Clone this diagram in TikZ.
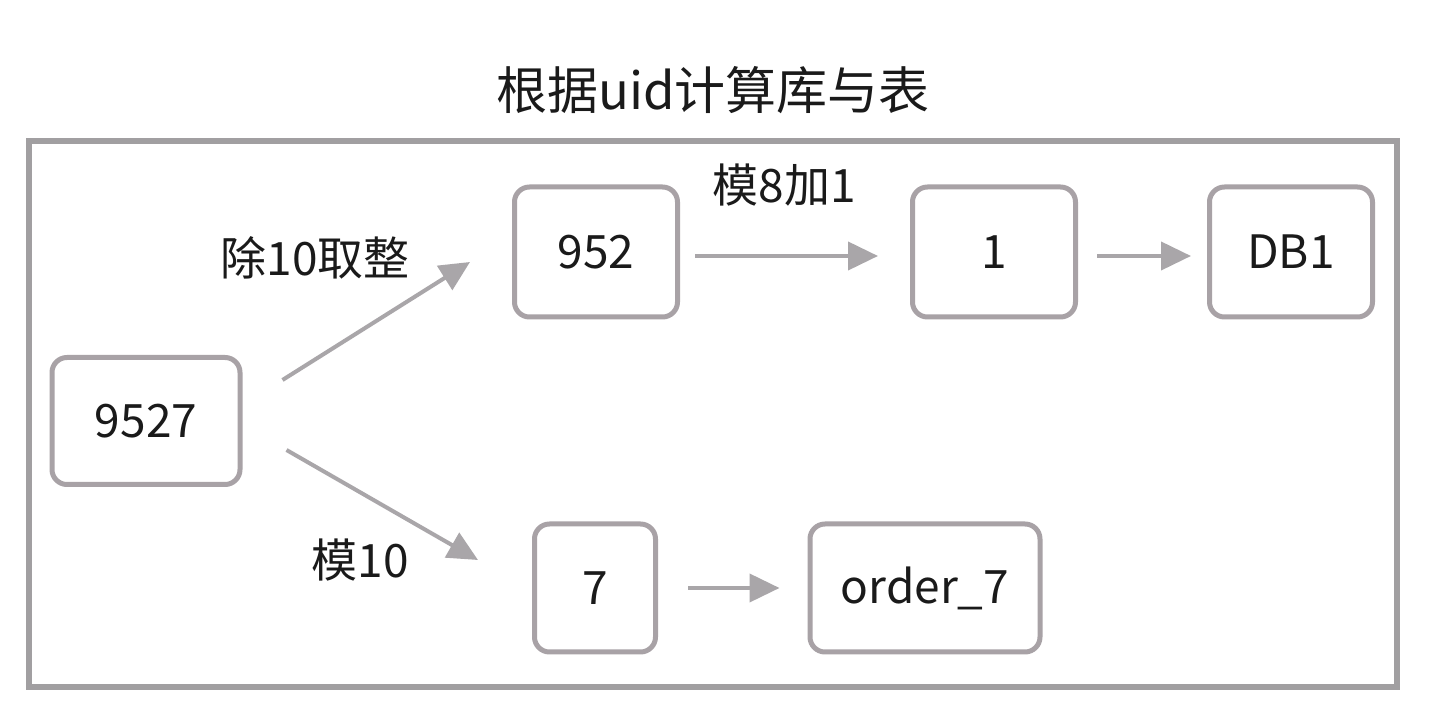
\documentclass[tikz,border=0pt]{standalone}
\usepackage{fontspec}
\setmainfont{Noto Sans CJK SC}
\usetikzlibrary{arrows.meta}
\definecolor{boxgray}{HTML}{A8A2A6}
\definecolor{framegray}{HTML}{A19FA1}
\definecolor{arrowgray}{HTML}{A9A6A9}
\definecolor{txt}{HTML}{1A1A1A}
\tikzset{
  box/.style={draw=boxgray, line width=2.5pt, rounded corners=7.5pt, inner sep=0pt,
    text=txt, font=\fontsize{23}{27}\selectfont, fill=white},
  conn/.style={draw=arrowgray, line width=2pt, -{Triangle[length=15pt,width=14pt]}},
  lbl/.style={text=txt, font=\fontsize{23}{27}\selectfont, inner sep=0pt},
}
\begin{document}
\begin{tikzpicture}[x=0.5pt,y=-0.5pt]
\useasboundingbox (0,0) rectangle (1431,710);
\fill[white] (0,0) rectangle (1431,710);
\node[lbl, font=\fontsize{25.5}{30}\selectfont] (title) at (713,90) {根据uid计算库与表};
\draw[framegray, line width=3pt] (29,141) rectangle (1397,687);
\node[box, minimum width=94pt, minimum height=63.5pt] (a) at (146,421) {9527};
\node[box, minimum width=81.5pt, minimum height=65pt] (b) at (596,252) {952};
\node[box, minimum width=81.5pt, minimum height=65pt] (c) at (994,252) {1};
\node[box, minimum width=81.5pt, minimum height=65pt] (d) at (1291,252) {DB1};
\node[box, minimum width=60.5pt, minimum height=64pt] (e) at (595,588) {7};
\node[box, minimum width=115pt, minimum height=64pt] (f) at (925,588) {order\_7};
\draw[conn] ([shift={(40,25)}]a.north east) -- ([shift={(-42,10)}]b.west);
\draw[conn] ([shift={(44,29)}]a.east) -- ([shift={(-54,-28)}]e.west);
\draw[conn] ([shift={(15,4)}]b.east) -- ([shift={(-32,4)}]c.west);
\draw[conn] ([shift={(19,4)}]c.east) -- ([shift={(-16,4)}]d.west);
\draw[conn] ([shift={(30,0)}]e.east) -- ([shift={(-28,0)}]f.west);
\node[lbl] (l1) at (315,258) {除10取整};
\node[lbl] (l2) at (784,185) {模8加1};
\node[lbl] (l3) at (360,560) {模10};
\end{tikzpicture}
\end{document}
